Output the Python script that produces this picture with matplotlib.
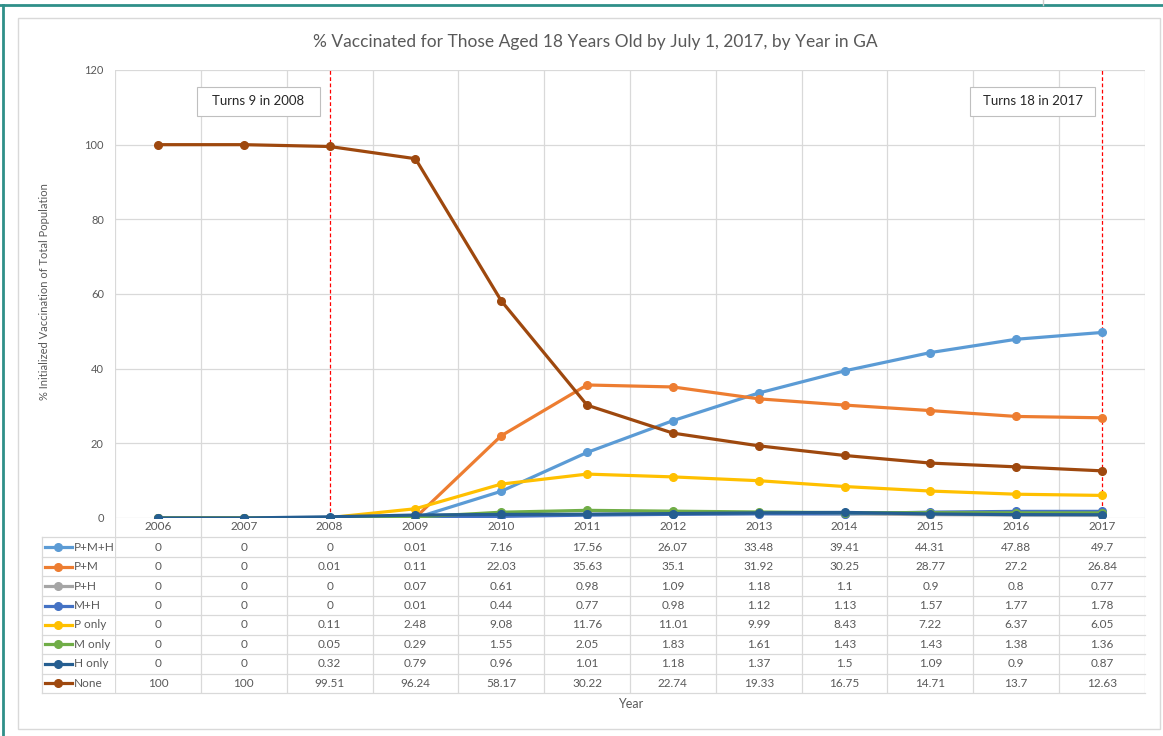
import numpy as np
import matplotlib
matplotlib.use("Agg")
import matplotlib.pyplot as plt
from matplotlib.patches import Rectangle
from matplotlib.lines import Line2D

plt.rcParams['font.family'] = ['Lato', 'DejaVu Sans']

years = [2006, 2007, 2008, 2009, 2010, 2011, 2012, 2013, 2014, 2015, 2016, 2017]

p_m_h = [0, 0, 0, 0.01, 7.16, 17.56, 26.07, 33.48, 39.41, 44.31, 47.88, 49.7]
p_m = [0, 0, 0.01, 0.11, 22.03, 35.63, 35.1, 31.92, 30.25, 28.77, 27.2, 26.84]
p_h = [0, 0, 0, 0.07, 0.61, 0.98, 1.09, 1.18, 1.1, 0.9, 0.8, 0.77]
m_h = [0, 0, 0, 0.01, 0.44, 0.77, 0.98, 1.12, 1.13, 1.57, 1.77, 1.78]
p_only = [0, 0, 0.11, 2.48, 9.08, 11.76, 11.01, 9.99, 8.43, 7.22, 6.37, 6.05]
m_only = [0, 0, 0.05, 0.29, 1.55, 2.05, 1.83, 1.61, 1.43, 1.43, 1.38, 1.36]
h_only = [0, 0, 0.32, 0.79, 0.96, 1.01, 1.18, 1.37, 1.5, 1.09, 0.9, 0.87]
none = [100, 100, 99.51, 96.24, 58.17, 30.22, 22.74, 19.33, 16.75, 14.71, 13.7, 12.63]

series = [
    ("P+M+H", p_m_h, "#5B9BD5"),
    ("P+M", p_m, "#ED7D31"),
    ("P+H", p_h, "#A5A5A5"),
    ("M+H", m_h, "#4472C4"),
    ("P only", p_only, "#FFC000"),
    ("M only", m_only, "#70AD47"),
    ("H only", h_only, "#255E91"),
    ("None", none, "#9E480E"),
]

marked_years = [2008, 2017]
notes = ["Turns 9 in 2008", "Turns 18 in 2017"]

W, H = 1163, 736
grid_c = "#D9D9D9"
text_c = "#595959"

fig = plt.figure(figsize=(W / 100, H / 100), dpi=100)

def fx(px):
    return px / W

def fy(py):
    return 1 - py / H

# outer frame and chart area border
fig.add_artist(Line2D([0, 1], [fy(5), fy(5)], color="#2F8F89", lw=2))
fig.add_artist(Line2D([fx(3), fx(3)], [0, fy(5)], color="#2F8F89", lw=2))
fig.add_artist(Line2D([fx(1043), fx(1043)], [fy(0), fy(5)], color="#CCCCCC", lw=1))
fig.add_artist(Rectangle((fx(18), fy(729)), fx(1160) - fx(18), fy(18) - fy(729),
                         transform=fig.transFigure, fill=False, ec=grid_c, lw=1))

left, right = 115, 1145
unit = (right - left) / len(years)

def dx(px):
    # pixel column -> category position
    return -0.5 + (px - left) / unit

ax = fig.add_axes([fx(left), fy(518), fx(right - left), fy(70) - fy(518)])
x = np.arange(len(years))

for name, vals, col in series:
    ax.plot(x, vals, color=col, lw=2.3, marker="o", markersize=5.5, zorder=3,
            solid_capstyle="round")

for yr in marked_years:
    ax.axvline(years.index(yr), color="#FF0000", lw=0.9, dashes=(3, 2), zorder=2)

ax.set_xlim(-0.5, len(years) - 0.5)
ax.set_ylim(0, 120)
ax.set_yticks(np.arange(0, 121, 20))
ax.set_xticks([])
ax.set_xticks(np.arange(-0.5, len(years), 1), minor=True)
ax.grid(axis="y", color=grid_c, lw=0.9)
ax.grid(axis="x", which="minor", color=grid_c, lw=0.9)
ax.set_axisbelow(True)
ax.tick_params(axis="both", which="both", length=0)
ax.tick_params(axis="y", labelsize=8, labelcolor=text_c, pad=8)
for s in ax.spines.values():
    s.set_visible(False)

# note boxes
note_pos = [(dx(197), dx(320)), (dx(970), dx(1095))]
for (x0, x1), txt in zip(note_pos, notes):
    ax.add_patch(Rectangle((x0, 107.7), x1 - x0, 7.75, fc="white", ec="#BFBFBF",
                           lw=0.8, zorder=4))
    ax.text((x0 + x1) / 2, 111.6, txt, ha="center", va="center", fontsize=9.5,
            color="#262626", zorder=5)

# data table under the plot
tax = fig.add_axes([fx(left), fy(693), fx(right - left), fy(518) - fy(693)])
tax.set_xlim(-0.5, len(years) - 0.5)
tax.set_ylim(len(series) + 1, 0)
tax.axis("off")
leg_left = dx(42)

for k in range(len(years) + 1):
    tax.plot([k - 0.5, k - 0.5], [0, len(series) + 1], color=grid_c, lw=0.9)
tax.plot([leg_left, leg_left], [1, len(series) + 1], color=grid_c, lw=0.9,
         clip_on=False)
for r in range(1, len(series) + 2):
    tax.plot([leg_left, len(years) - 0.5], [r, r], color=grid_c, lw=0.9,
             clip_on=False)

for i, yr in enumerate(years):
    tax.text(i, 0.45, str(yr), ha="center", va="center", fontsize=8.5, color=text_c)

for r, (name, vals, col) in enumerate(series, start=1):
    xa, xb = dx(45), dx(72)
    tax.plot([xa, xb], [r + 0.5, r + 0.5], color=col, lw=2.3, clip_on=False)
    tax.plot([dx(58)], [r + 0.5], color=col, marker="o", markersize=5.5,
             clip_on=False)
    tax.text(dx(74), r + 0.5, name, ha="left", va="center", fontsize=8.5,
             color=text_c, clip_on=False)
    for i, v in enumerate(vals):
        tax.text(i, r + 0.5, f"{v:g}", ha="center", va="center", fontsize=8.5,
                 color=text_c)

fig.text(fx(595), fy(42), "% Vaccinated for Those Aged 18 Years Old by July 1, 2017, by Year in GA",
         ha="center", va="center", fontsize=12.5, color=text_c)
fig.text(fx(45), fy(292), "% Initialized Vaccination of Total Population",
         ha="center", va="center", rotation=90, fontsize=8, color=text_c)
fig.text(fx(631), fy(704), "Year", ha="center", va="center", fontsize=9,
         color=text_c)

fig.savefig("out.png", dpi=100)
